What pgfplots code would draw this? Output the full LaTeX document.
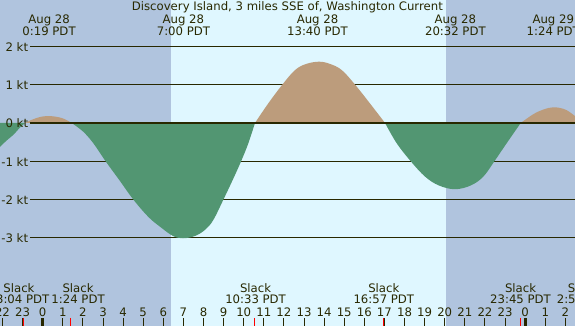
\documentclass[border=0pt]{standalone}
\usepackage{fontspec}
\setmainfont{DejaVu Sans}
\usepackage{pgfplots}
\pgfplotsset{compat=1.18}
\definecolor{night}{RGB}{176,196,222}
\definecolor{day}{RGB}{223,247,255}
\definecolor{flood}{RGB}{188,156,124}
\definecolor{ebb}{RGB}{82,150,114}
\definecolor{ink}{RGB}{40,40,0}
\tikzset{lab/.style={font=\fontsize{11.7bp}{14bp}\selectfont, text=ink, inner sep=0pt}}
\newcommand{\hl}[2]{\node[lab,anchor=base] at (axis cs:#1,-5.057) {#2};}
\newcommand{\ev}[3]{\node[lab,anchor=base] at (axis cs:#1,2.585) {#2};\node[lab,anchor=base] at (axis cs:#1,2.272) {#3};}
\newcommand{\slk}[2]{\node[lab,anchor=base] at (axis cs:#1,-4.431) {Slack};\node[lab,anchor=base] at (axis cs:#1,-4.726) {#2};}
\newcommand{\yl}[1]{\draw[ink,line width=1.1bp] (axis cs:-0.632,#1) -- (axis cs:26.6,#1);}
\newcommand{\ylab}[2]{\node[lab,anchor=base east] at (axis cs:-0.716,#1-0.13) {#2};}
\begin{document}
\begin{tikzpicture}
\begin{axis}[scale only axis, width=575bp, height=326bp,
  xmin=-2.124, xmax=26.48, ymin=-5.301, ymax=3.211, hide axis]
\coordinate (SW) at (rel axis cs:0,0);
\coordinate (NE) at (rel axis cs:1,1);
% day / night
\fill[night] (axis cs:-2.3,-5.5) rectangle (axis cs:6.37,3.4);
\fill[day] (axis cs:6.37,-5.5) rectangle (axis cs:20.05,3.4);
\fill[night] (axis cs:20.05,-5.5) rectangle (axis cs:26.7,3.4);
% grid lines
\yl{2} \yl{1} \yl{-1} \yl{-2} \yl{-3}
% current
\addplot[fill=ebb, draw=none, smooth, tension=0.6] coordinates {(-2.3,-0.70) (-2.12,-0.62) (-1.8,-0.46) (-1.46,-0.31) (-1.2,-0.16) (-0.88,0)} \closedcycle;
\addplot[fill=flood, draw=none, smooth, tension=0.6] coordinates {(-0.88,0) (-0.6,0.07) (-0.3,0.13) (0.0,0.17) (0.36,0.18) (0.7,0.16) (1.0,0.12) (1.25,0.06) (1.44,0)} \closedcycle;
\addplot[fill=ebb, draw=none, smooth, tension=0.6] coordinates {(1.44,0) (2.0,-0.22) (2.52,-0.53) (3.13,-1.0) (3.81,-1.49) (4.51,-2.0) (5.25,-2.45) (5.84,-2.71) (6.48,-2.95) (6.98,-3.01) (7.58,-2.95) (8.1,-2.78) (8.49,-2.53) (8.99,-2.0) (9.45,-1.49) (9.87,-1.0) (10.23,-0.53) (10.56,0)} \closedcycle;
\addplot[fill=flood, draw=none, smooth, tension=0.6] coordinates {(10.56,0) (11.22,0.51) (11.92,1.0) (12.55,1.38) (13.1,1.54) (13.75,1.60) (14.3,1.54) (14.88,1.38) (15.54,1.0) (16.28,0.51) (17.03,0)} \closedcycle;
\addplot[fill=ebb, draw=none, smooth, tension=0.6] coordinates {(17.03,0) (17.61,-0.53) (18.31,-1.0) (19.02,-1.40) (19.7,-1.63) (20.51,-1.73) (21.3,-1.63) (21.92,-1.40) (22.47,-1.0) (23.08,-0.53) (23.78,0)} \closedcycle;
\addplot[fill=flood, draw=none, smooth, tension=0.6] coordinates {(23.78,0) (24.41,0.23) (24.9,0.35) (25.4,0.41) (25.9,0.37) (26.2,0.29) (26.48,0.18) (26.7,0.10)} \closedcycle;
% zero line
\draw[ink,line width=1.1bp] (axis cs:-0.632,0) -- (axis cs:26.7,0);
% y labels
\ylab{2}{2 kt} \ylab{1}{1 kt} \ylab{0}{0 kt} \ylab{-1}{-1 kt} \ylab{-2}{-2 kt} \ylab{-3}{-3 kt}
% hour ticks
\pgfplotsinvokeforeach{-2,...,26}{\draw[ink,line width=1bp] (axis cs:#1,-5.091) -- (axis cs:#1,-5.4);}
\draw[ink,line width=3bp] (axis cs:0,-5.091) -- (axis cs:0,-5.4);
\draw[ink,line width=3bp] (axis cs:24,-5.091) -- (axis cs:24,-5.4);
\pgfplotsinvokeforeach{-0.933,1.4,10.55,16.95,23.75}{\draw[red,line width=1bp] (axis cs:#1,-5.091) -- (axis cs:#1,-5.4);}
% hour labels
\hl{-2}{22}\hl{-1}{23}\hl{0}{0}\hl{1}{1}\hl{2}{2}\hl{3}{3}\hl{4}{4}\hl{5}{5}\hl{6}{6}\hl{7}{7}\hl{8}{8}\hl{9}{9}\hl{10}{10}\hl{11}{11}\hl{12}{12}\hl{13}{13}\hl{14}{14}\hl{15}{15}\hl{16}{16}\hl{17}{17}\hl{18}{18}\hl{19}{19}\hl{20}{20}\hl{21}{21}\hl{22}{22}\hl{23}{23}\hl{24}{0}\hl{25}{1}\hl{26}{2}
% slack labels
\slk{-1.18}{23:04 PDT}\slk{1.76}{1:24 PDT}\slk{10.59}{10:33 PDT}\slk{16.97}{16:57 PDT}\slk{23.77}{23:45 PDT}\slk{26.9}{2:54 PDT}
% event labels
\ev{0.317}{Aug 28}{0:19 PDT}\ev{7.0}{Aug 28}{7:00 PDT}\ev{13.67}{Aug 28}{13:40 PDT}\ev{20.53}{Aug 28}{20:32 PDT}\ev{25.4}{Aug 29}{1:24 PDT}
% title
\node[lab,anchor=base] at (axis cs:12.17,2.932) {Discovery Island, 3 miles SSE of, Washington Current};
\end{axis}
\pgfresetboundingbox
\path (SW) rectangle (NE);
\end{tikzpicture}
\end{document}
